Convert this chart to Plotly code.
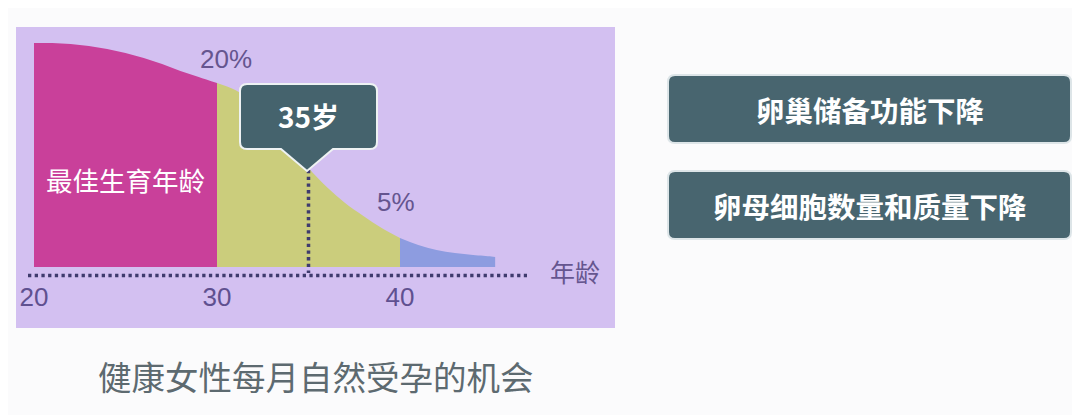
import plotly.graph_objects as go

# ---- data ----
# relative height of the "chance" curve above the age axis
ages = [20, 21, 22, 23, 24, 25, 26, 27, 28, 29, 30, 31, 32, 33, 34, 35,
        36, 37, 38, 39, 40, 41, 42, 43, 44, 45, 45.2]
chance = [224, 224, 223, 221, 218, 214, 209, 203, 196, 190, 184, 177, 164,
          145, 122, 99, 80, 64, 51, 39, 29, 22, 17, 14, 12, 10.5, 10]

# age bands and their colours
band_edges = [20, 30, 40, 45.2]
band_colors = ['#c9409a', '#cbcd7c', '#8d9ce0']

tick_ages = [20, 30, 40]
tick_labels = ['20', '30', '40']

marker_age = 35
marker_label = '35岁'
band_label = '最佳生育年龄'
rate_ages = [30, 40]
rate_labels = ['20%', '5%']
axis_label = '年龄'
title_text = '健康女性每月自然受孕的机会'
side_notes = ['卵巢储备功能下降', '卵母细胞数量和质量下降']

# ---- pixel helpers ----
# the page body has an 8px margin, so the figure is drawn 8px smaller
# and every screen position is shifted back by that much
PAD = 8
W, H = 1080 - PAD, 415 - PAD
PX_PER_YEAR = 18.3
X0_PX, BASE_PX = 34, 267


def ax(px):
    return 20 + (px - X0_PX) / PX_PER_YEAR


def ay(py):
    return BASE_PX - py


def pt(px, py):
    return '%.4f,%.4f' % (ax(px), ay(py))


def round_box(x0, y0, x1, y1, r=6, pointer=None):
    """Rounded rectangle path in screen pixels, optional pointer under it."""
    p = 'M ' + pt(x0 + r, y0)
    p += ' L ' + pt(x1 - r, y0) + ' Q ' + pt(x1, y0) + ' ' + pt(x1, y0 + r)
    p += ' L ' + pt(x1, y1 - r) + ' Q ' + pt(x1, y1) + ' ' + pt(x1 - r, y1)
    if pointer is not None:
        bl, br, tx, ty = pointer
        p += ' L ' + pt(br, y1) + ' L ' + pt(tx, ty) + ' L ' + pt(bl, y1)
    p += ' L ' + pt(x0 + r, y1) + ' Q ' + pt(x0, y1) + ' ' + pt(x0, y1 - r)
    p += ' L ' + pt(x0, y0 + r) + ' Q ' + pt(x0, y0) + ' ' + pt(x0 + r, y0)
    return p + ' Z'


fig = go.Figure()

# filled bands under the curve
for i, color in enumerate(band_colors):
    lo, hi = band_edges[i], band_edges[i + 1]
    xs = [a for a in ages if lo <= a <= hi]
    ys = [c for a, c in zip(ages, chance) if lo <= a <= hi]
    fig.add_trace(go.Scatter(
        x=xs, y=ys, mode='lines', fill='tozeroy', fillcolor=color,
        line=dict(width=0, shape='spline', color=color),
        hoverinfo='skip', showlegend=False))

# dotted age axis
DOT = '#3f3b6e'
DOTS = '3.3px,3.4px'
fig.add_trace(go.Scatter(
    x=[ax(28), ax(527)], y=[ay(275.5), ay(275.5)], mode='lines',
    line=dict(color=DOT, width=3.5, dash=DOTS),
    hoverinfo='skip', showlegend=False))

# dotted marker at 35
fig.add_trace(go.Scatter(
    x=[marker_age, marker_age], y=[ay(170), ay(273)], mode='lines',
    line=dict(color=DOT, width=3.5, dash=DOTS),
    hoverinfo='skip', showlegend=False))

# tick labels
fig.add_trace(go.Scatter(
    x=tick_ages, y=[ay(299)] * len(tick_ages), mode='text',
    text=tick_labels, textposition='middle center',
    textfont=dict(family='Liberation Sans', size=26, color='#5f5090'),
    hoverinfo='skip', showlegend=False))

shapes = [
    # lavender panel
    dict(type='rect', xref='x', yref='y', layer='below',
         x0=ax(16), x1=ax(615), y0=ay(328), y1=ay(27),
         fillcolor='#d3c0f1', line=dict(width=0)),
    # callout
    dict(type='path', xref='x', yref='y', layer='above',
         path=round_box(240, 84, 377, 149, r=7, pointer=(281, 333, 307, 171)),
         fillcolor='#45636d', line=dict(color='#eef2f3', width=2)),
]

box_rows = [(75, 143), (171, 239)]
for top, bot in box_rows:
    shapes.append(dict(type='path', xref='x', yref='y', layer='above',
                       path=round_box(668, top, 1071, bot, r=7),
                       fillcolor='#48656f', line=dict(color='#dde5e8', width=2)))

CJK = 'Noto Sans CJK SC'
PURPLE = '#65558f'
annotations = [
    dict(x=ax(308), y=ay(116), text='<b>' + marker_label + '</b>',
         font=dict(family=CJK, size=28, color='white')),
    dict(x=ax(125), y=ay(179), text=band_label,
         font=dict(family=CJK, size=26.5, color='white')),
    dict(x=rate_ages[0] + 0.5, y=ay(59), text=rate_labels[0],
         font=dict(family='Liberation Sans', size=26, color=PURPLE)),
    dict(x=rate_ages[1] - 0.2, y=ay(202), text=rate_labels[1],
         font=dict(family='Liberation Sans', size=26, color=PURPLE)),
    dict(x=ax(575), y=ay(271), text=axis_label,
         font=dict(family=CJK, size=25, color=PURPLE)),
    dict(x=ax(316), y=ay(375), text=title_text,
         font=dict(family=CJK, size=33.5, color='#5d6a70')),
]
for (top, bot), note in zip(box_rows, side_notes):
    annotations.append(dict(x=ax(870), y=ay((top + bot) / 2), text='<b>' + note + '</b>',
                            font=dict(family=CJK, size=28.5, color='white')))
for a in annotations:
    a.update(xref='x', yref='y', showarrow=False,
             xanchor='center', yanchor='middle')

fig.update_layout(
    width=W, height=H,
    margin=dict(l=0, r=0, t=0, b=0),
    paper_bgcolor='#fbfbfc', plot_bgcolor='rgba(0,0,0,0)',
    xaxis=dict(range=[ax(PAD), ax(PAD + W)], visible=False, fixedrange=True),
    yaxis=dict(range=[ay(PAD + H), ay(PAD)], visible=False, fixedrange=True),
    shapes=shapes, annotations=annotations,
    showlegend=False,
)

fig.write_html('out.html')
